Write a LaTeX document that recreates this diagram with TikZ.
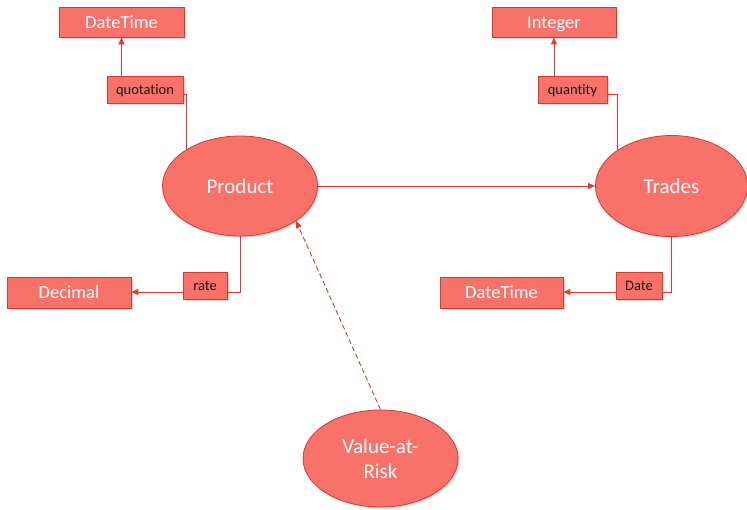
\documentclass[tikz,border=0pt]{standalone}
\usepackage{fontspec}
\setmainfont{Carlito}[Ligatures={NoCommon}]
\usetikzlibrary{arrows.meta,shapes.geometric,shadows}
\definecolor{boxfill}{RGB}{248,114,106}
\definecolor{boxline}{RGB}{214,58,47}
\definecolor{wire}{RGB}{224,58,48}
\definecolor{labeltext}{RGB}{30,20,20}
\tikzset{
  softshadow/.style={drop shadow={shadow xshift=1.5pt,shadow yshift=-1.5pt,opacity=0.25,fill=black!60}},
  typebox/.style={rectangle,draw=boxline,line width=0.8pt,fill=boxfill,softshadow,
    inner sep=0pt,minimum width=124pt,minimum height=30pt,text=white,
    text height=12pt,text depth=0pt,font=\fontsize{18.5}{22}\selectfont},
  rolebox/.style={rectangle,draw=boxline,line width=0.8pt,fill=boxfill,softshadow,
    inner sep=0pt,minimum height=27pt,text=labeltext,
    text height=9.5pt,text depth=0pt,font=\fontsize{14.5}{17}\selectfont},
  entity/.style={ellipse,draw=boxline,line width=0.8pt,fill=boxfill,softshadow,
    inner sep=0pt,text=white,align=center,font=\fontsize{21}{25}\selectfont},
  link/.style={draw=wire,line width=0.9pt},
  arrowlink/.style={link,-{Triangle[length=7pt,width=6pt]}},
}
\begin{document}
\begin{tikzpicture}[x=1pt,y=-1pt]
\useasboundingbox (0,0) rectangle (747,509);

% entities
\node[entity,minimum width=155pt,minimum height=100pt] (prod) at (240,186) {Product};
\node[entity,minimum width=152pt,minimum height=101pt] (trades) at (671.5,186) {Trades};
\node[entity,minimum width=155pt,minimum height=97pt] (var) at (380.5,458.5) {Value-at-\\Risk};

% type boxes
\node[typebox,minimum width=125pt] (dtA) at (121.5,22) {DateTime};
\node[typebox] (int) at (554,22) {Integer};
\node[typebox,minimum height=31pt] (dec) at (69,292.5) {Decimal};
\node[typebox,minimum width=123pt,minimum height=31pt] (dtB) at (501.5,292.5) {DateTime};

% role boxes
\node[rolebox,minimum width=76pt] (quot) at (145,89.5) {quotation};
\node[rolebox,minimum width=69pt] (qty) at (572.5,89.5) {quantity};
\node[rolebox,minimum width=44pt] (rate) at (205,285.5) {rate};
\node[rolebox,minimum width=46pt] (date) at (639,285.5) {Date};

% connector ports on the role boxes, a little below centre
\coordinate (quotR) at ([yshift=-5pt]quot.east);
\coordinate (qtyR) at ([yshift=-5pt]qty.east);
\coordinate (rateR) at ([yshift=-6.5pt]rate.east);
\coordinate (rateL) at ([yshift=-6.5pt]rate.west);
\coordinate (dateR) at ([yshift=-6.5pt]date.east);
\coordinate (dateL) at ([yshift=-6.5pt]date.west);

% associations
\draw[arrowlink] (prod.east) -- (trades.west);
\draw[arrowlink,dash pattern=on 5pt off 3pt] (var.north) -- (prod.-32);

% Product roles
\draw[link] (quotR) -| (prod.146);
\draw[arrowlink] (quot.north -| dtA.south) -- (dtA.south);
\draw[link] (rateR) -| (prod.south);
\draw[arrowlink] (rateL) -- (rateL -| dec.east);

% Trades roles
\draw[link] (qtyR) -| (trades.146);
\draw[arrowlink] (qty.north -| int.south) -- (int.south);
\draw[link] (dateR) -| (trades.south);
\draw[arrowlink] (dateL) -- (dateL -| dtB.east);
\end{tikzpicture}
\end{document}
